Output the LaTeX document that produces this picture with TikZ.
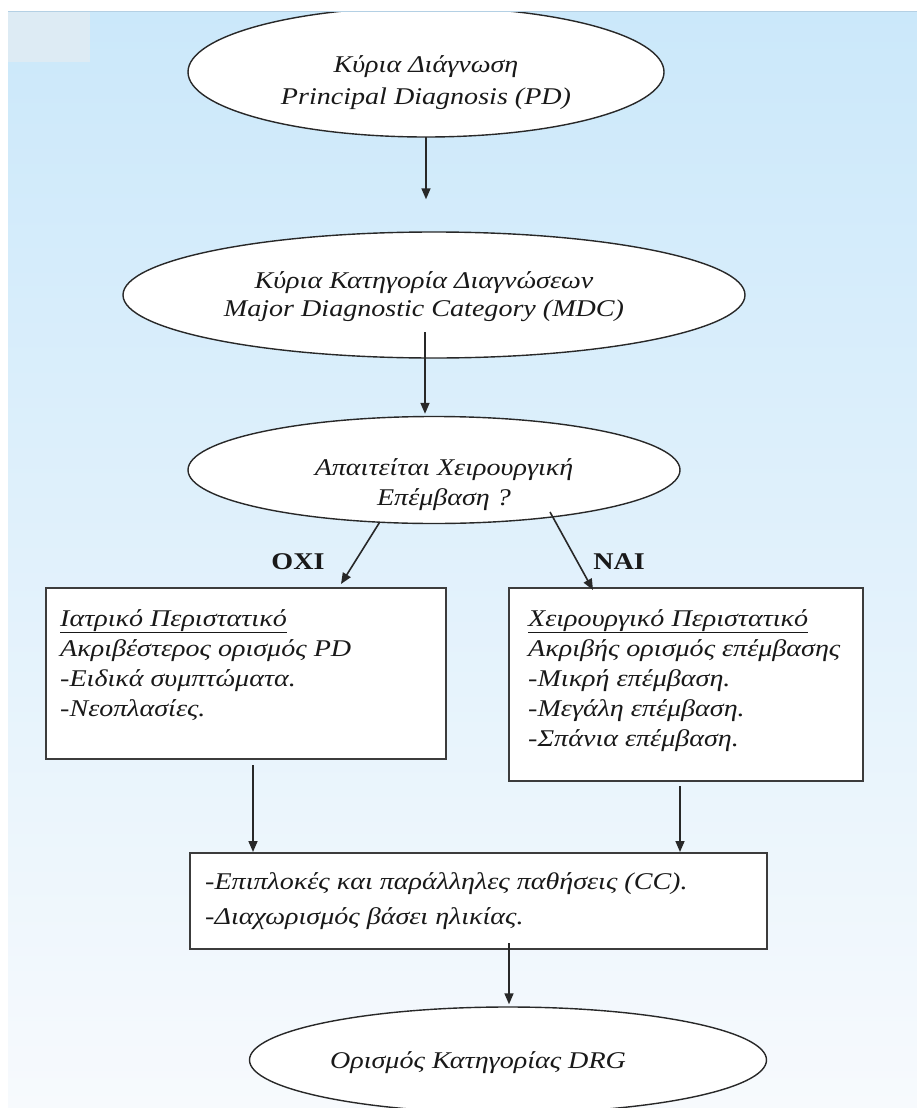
\documentclass[tikz,border=0pt]{standalone}
\usepackage{fontspec}
\setmainfont{Liberation Serif}[FakeStretch=1.17]
\usetikzlibrary{arrows.meta,shapes.geometric,calc}
\definecolor{bgtop}{RGB}{203,232,250}
\definecolor{bgmid}{RGB}{226,240,250}
\definecolor{bgbot}{RGB}{247,250,253}
\definecolor{patchc}{RGB}{221,235,244}
\definecolor{linec}{RGB}{40,40,40}
\definecolor{boxc}{RGB}{60,60,60}
\definecolor{txtc}{RGB}{25,25,25}
\tikzset{
  ell/.style={ellipse, draw=linec, line width=1.4pt, fill=white, inner sep=0pt},
  rbox/.style={rectangle, draw=boxc, line width=2pt, fill=white, inner sep=0pt, anchor=north west},
  etxt/.style={font=\fontsize{24}{30}\selectfont\itshape, text=txtc, inner sep=0pt, anchor=base},
  ltxt/.style={font=\fontsize{24}{30}\selectfont\itshape, text=txtc, inner sep=0pt, anchor=base west},
  lbl/.style={font=\fontsize{24}{30}\selectfont\bfseries, text=txtc, inner sep=0pt},
  arr/.style={draw=linec, line width=1.6pt, -{Triangle[length=11pt,width=9pt]}},
}
\begin{document}
\begin{tikzpicture}[x=1pt,y=-1pt]
\useasboundingbox (0,0) rectangle (917,1108);
% background
\fill[white] (0,0) rectangle (917,1108);
\shade[top color=bgtop, middle color=bgmid, bottom color=bgbot] (8,11) rectangle (917,1108);
\fill[patchc] (8,11) rectangle (90,62);

% ellipses
\node[ell, minimum width=476pt, minimum height=130pt] (e1) at (426,72) {};
\node[ell, minimum width=622pt, minimum height=126pt] (e2) at (434,295) {};
\node[ell, minimum width=492pt, minimum height=107pt] (e3) at (434,470) {};
\node[ell, minimum width=517pt, minimum height=106pt] (fe) at (508,1060) {};

% top white strip (clips first ellipse)
\fill[white] (0,0) rectangle (917,11);
\draw[RGB/.style={}, draw={rgb,255:red,180;green,208;blue,228}, line width=1pt] (8,11.5) -- (917,11.5);
\fill[white] (0,0) rectangle (8,1108);

\node[etxt] (e1a) at (426,72) {Κύρια Διάγνωση};
\node[etxt] (e1b) at (426,104) {Principal Diagnosis (PD)};
\node[etxt] (e2a) at (424,288) {Κύρια Κατηγορία Διαγνώσεων};
\node[etxt] (e2b) at (424,316) {Major Diagnostic Category (MDC)};
\node[etxt] (e3a) at (444,475) {Απαιτείται Χειρουργική};
\node[etxt] (e3b) at (444,505) {Επέμβαση ?};
\node[etxt] (fea) at (478,1068) {Ορισμός Κατηγορίας DRG};

% boxes
\node[rbox, minimum width=400pt, minimum height=171pt] (lb) at (45,587) {};
\node[rbox, minimum width=354pt, minimum height=193pt] (rb) at (508,587) {};
\node[rbox, minimum width=577pt, minimum height=96pt] (bb) at (189,852) {};

\node[ltxt] (lb1) at (60,626) {\underline{Ιατρικό Περιστατικό}};
\node[ltxt] (lb2) at (60,656) {Ακριβέστερος ορισμός PD};
\node[ltxt] (lb3) at (60,686) {-Ειδικά συμπτώματα.};
\node[ltxt] (lb4) at (60,716) {-Νεοπλασίες.};

\node[ltxt] (rb1) at (528,626) {\underline{Χειρουργικό Περιστατικό}};
\node[ltxt] (rb2) at (528,656) {Ακριβής ορισμός επέμβασης};
\node[ltxt] (rb3) at (528,686) {-Μικρή επέμβαση.};
\node[ltxt] (rb4) at (528,716) {-Μεγάλη επέμβαση.};
\node[ltxt] (rb5) at (528,746) {-Σπάνια επέμβαση.};

\node[ltxt] (bb1) at (205,889) {-Επιπλοκές και παράλληλες παθήσεις (CC).};
\node[ltxt] (bb2) at (205,924) {-Διαχωρισμός βάσει ηλικίας.};

% labels
\node[lbl] (oxi) at (298,562) {ΟΧΙ};
\node[lbl] (nai) at (619,562) {ΝΑΙ};

% connectors
\coordinate (a1) at (426,137);
\draw[arr, shorten >=32pt] (a1) -- (a1 |- e2.north);
\coordinate (a2) at (425,332);
\draw[arr, shorten >=2pt] (a2) -- (a2 |- e3.north);
\coordinate (oxiE) at (341,584);
\draw[arr] (e3.224) -- (oxiE);
\coordinate (naiS) at (550,512);
\coordinate (naiE) at (593,590);
\draw[arr] (naiS) -- (naiE);
\coordinate (la) at (253,758);
\draw[arr, shorten <=7pt] (la) -- (la |- bb.north);
\coordinate (ra) at (680,780);
\draw[arr, shorten <=6pt] (ra) -- (ra |- bb.north);
\coordinate (fa) at (509,943);
\draw[arr, shorten >=2pt] (fa) -- (fa |- fe.north);
\end{tikzpicture}
\end{document}
